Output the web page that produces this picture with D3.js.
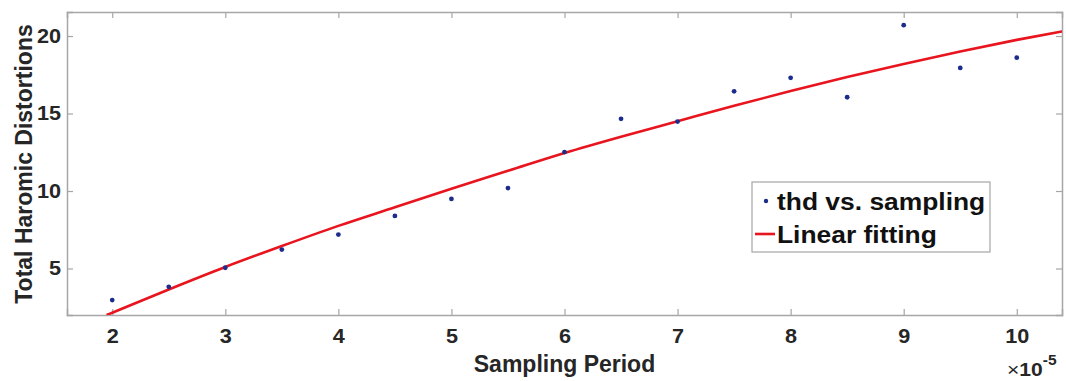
<!DOCTYPE html>
<html><head><meta charset="utf-8">
<script src="https://cdn.jsdelivr.net/npm/d3@7"></script>
<style>
html,body{margin:0;padding:0;background:#fff;}
text{font-family:"Liberation Sans",Arial,sans-serif;font-weight:bold;}
</style></head>
<body><svg id="c" width="1066" height="381"></svg>
<script>
// Data
const samplingPeriod = [2, 2.5, 3, 3.5, 4, 4.5, 5, 5.5, 6, 6.5, 7, 7.5, 8, 8.5, 9, 9.5, 10];
const thdValues = [2.96, 3.82, 5.05, 6.22, 7.19, 8.39, 9.49, 10.19, 12.51, 14.66, 14.48, 16.43, 17.3, 16.05, 20.7, 17.94, 18.6];
const fitX = [1.95, 2, 2.5, 3, 3.5, 4, 4.5, 5, 5.5, 6, 6.5, 7, 7.5, 8, 8.5, 9, 9.5, 10, 10.4];
const fitY = [2.0, 2.15, 3.65, 5.1, 6.45, 7.75, 8.95, 10.15, 11.3, 12.45, 13.5, 14.5, 15.5, 16.45, 17.35, 18.2, 19.0, 19.75, 20.3];
const xTicks = [2, 3, 4, 5, 6, 7, 8, 9, 10];
const yTicks = [5, 10, 15, 20];
const legendLabels = ["thd vs. sampling", "Linear fitting"];

const svg = d3.select("#c");
const L = 67, R = 1062, T = 12, B = 315;
const SX = 1.11; // horizontal stretch of the reference's glyphs
const x = d3.scaleLinear().domain([1.6, 10.4]).range([L, R]);
const y = d3.scaleLinear().domain([2.0, 21.55]).range([B, T]);
const axisColor = "#a6a6a6", textColor = "#262626";

// axes
const gx = svg.append("g").attr("transform", `translate(0,${B})`)
  .call(d3.axisBottom(x).tickValues(xTicks).tickSize(-6).tickPadding(14).tickFormat(d3.format("d")));
const gxt = svg.append("g").attr("transform", `translate(0,${T})`)
  .call(d3.axisTop(x).tickValues(xTicks).tickSize(-6).tickFormat(""));
const gy = svg.append("g").attr("transform", `translate(${L},0)`)
  .call(d3.axisLeft(y).tickValues(yTicks).tickSize(-6));
const gyr = svg.append("g").attr("transform", `translate(${R},0)`)
  .call(d3.axisRight(y).tickValues(yTicks).tickSize(-6).tickFormat(""));
[gx, gxt, gy, gyr].forEach(g => {
  g.select(".domain").attr("stroke", axisColor).attr("stroke-width", 1.5);
  g.selectAll(".tick line").attr("stroke", axisColor).attr("stroke-width", 1.2);
  g.selectAll(".tick text").attr("fill", textColor).style("font-size", "19.5px")
    .style("font-family", "'Liberation Sans',Arial,sans-serif").style("font-weight", "bold");
});
gx.selectAll(".tick text").attr("transform", `scale(${SX},1)`);
gy.selectAll(".tick text").attr("x", -6 / SX).attr("transform", `scale(${SX},1)`);

// clip
svg.append("clipPath").attr("id", "clip").append("rect").attr("x", L).attr("y", T).attr("width", R - L).attr("height", B - T);

// fit line
const fitData = fitX.map((v, i) => [v, fitY[i]]);
svg.append("path").datum(fitData).attr("clip-path", "url(#clip)")
  .attr("fill", "none").attr("stroke", "#e8141e").attr("stroke-width", 2.6)
  .attr("d", d3.line().x(d => x(d[0])).y(d => y(d[1])).curve(d3.curveMonotoneX));

// points
svg.append("g").selectAll("circle").data(samplingPeriod.map((v, i) => [v, thdValues[i]]))
  .join("circle").attr("cx", d => x(d[0])).attr("cy", d => y(d[1])).attr("r", 2.4).attr("fill", "#1c2c8c");

// axis labels
svg.append("text").attr("x", (L + R) / 2).attr("y", 372).attr("text-anchor", "middle")
  .attr("fill", textColor).style("font-size", "23px").text("Sampling Period");
svg.append("text").attr("transform", `translate(32,164) rotate(-90)`).attr("text-anchor", "middle")
  .attr("fill", textColor).style("font-size", "23px").text("Total Haromic Distortions");

// exponent
const ex = svg.append("text").attr("transform", `translate(1007,376) scale(${SX},1)`).attr("fill", textColor).style("font-size", "19px");
ex.append("tspan").style("font-weight", "normal").text("×");
ex.append("tspan").text("10");
ex.append("tspan").attr("dy", -11).style("font-size", "14px").text("-5");

// legend
const lg = svg.append("g");
lg.append("rect").attr("x", 752).attr("y", 182).attr("width", 238).attr("height", 70)
  .attr("fill", "#fff").attr("stroke", "#a6a6a6").attr("stroke-width", 1.2);
lg.append("circle").attr("cx", 766).attr("cy", 201).attr("r", 2.2).attr("fill", "#1c2c8c");
lg.append("line").attr("x1", 755).attr("x2", 775).attr("y1", 234).attr("y2", 234).attr("stroke", "#e8141e").attr("stroke-width", 2.6);
lg.append("text").attr("transform", `translate(777,210) scale(1.1,1)`).attr("fill", "#111").style("font-size", "24px").text(legendLabels[0]);
lg.append("text").attr("transform", `translate(777,243) scale(1.1,1)`).attr("fill", "#111").style("font-size", "24px").text(legendLabels[1]);
</script></body></html>
